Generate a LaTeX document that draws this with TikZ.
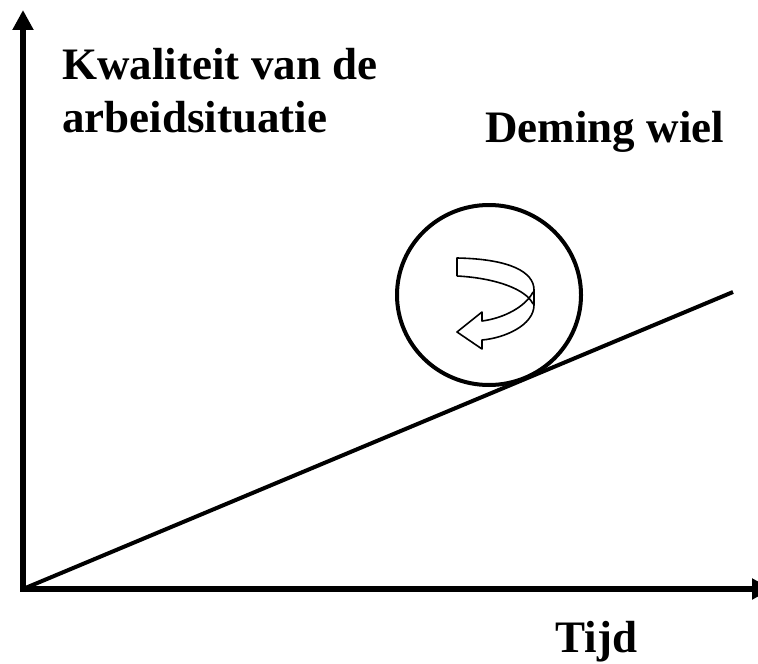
\documentclass[tikz,border=0pt]{standalone}
\usepackage{fontspec}
\setmainfont{Liberation Serif}
\usepackage{tikz}
\usetikzlibrary{arrows.meta,positioning}

\begin{document}
\begin{tikzpicture}[x=0.5pt,y=-0.5pt,
    label/.style={font=\fontsize{22.5}{27}\selectfont\bfseries,inner sep=0pt,anchor=base west},
    axis/.style={line width=3pt,{Triangle[length=10pt,width=10pt]}-{Triangle[length=10pt,width=10pt]}},
    trend/.style={line width=2pt},
    wheel/.style={line width=2pt},
    ribbon/.style={line width=0.8pt,line join=round}]
\useasboundingbox (0,0) rectangle (758,663);
\coordinate (ytop) at (23,10);
\coordinate (O) at (23,589);
\coordinate (xend) at (772,589);
\coordinate (lend) at (733,292);
\coordinate (wc) at (489,295);
% axes
\draw[axis] (ytop) -- (O) -- (xend);
\node[label] (yname) at (62,80) {Kwaliteit van de};
\node[label] (yname2) at (62,133) {arbeidsituatie};
\node[label] (xname) at (555,652) {Tijd};
\node[label] (wname) at (485,143) {Deming wiel};
% trend line and wheel
\draw[trend] (O) -- (lend);
\draw[wheel] (wc) ellipse [x radius=92, y radius=90];
% turning arrow in the wheel
\draw[ribbon] (457,276) -- (457,258) .. controls (510,259) and (534,272) .. (534,290)
   -- (534,305) .. controls (534,325) and (505,338) .. (482,340)
   -- (482,349) -- (457,332) -- (482,312) -- (482,321)
   .. controls (505,318) and (526,306) .. (533,292);
\draw[ribbon] (457,276) .. controls (495,278) and (526,289) .. (533,304);
\end{tikzpicture}
\end{document}
